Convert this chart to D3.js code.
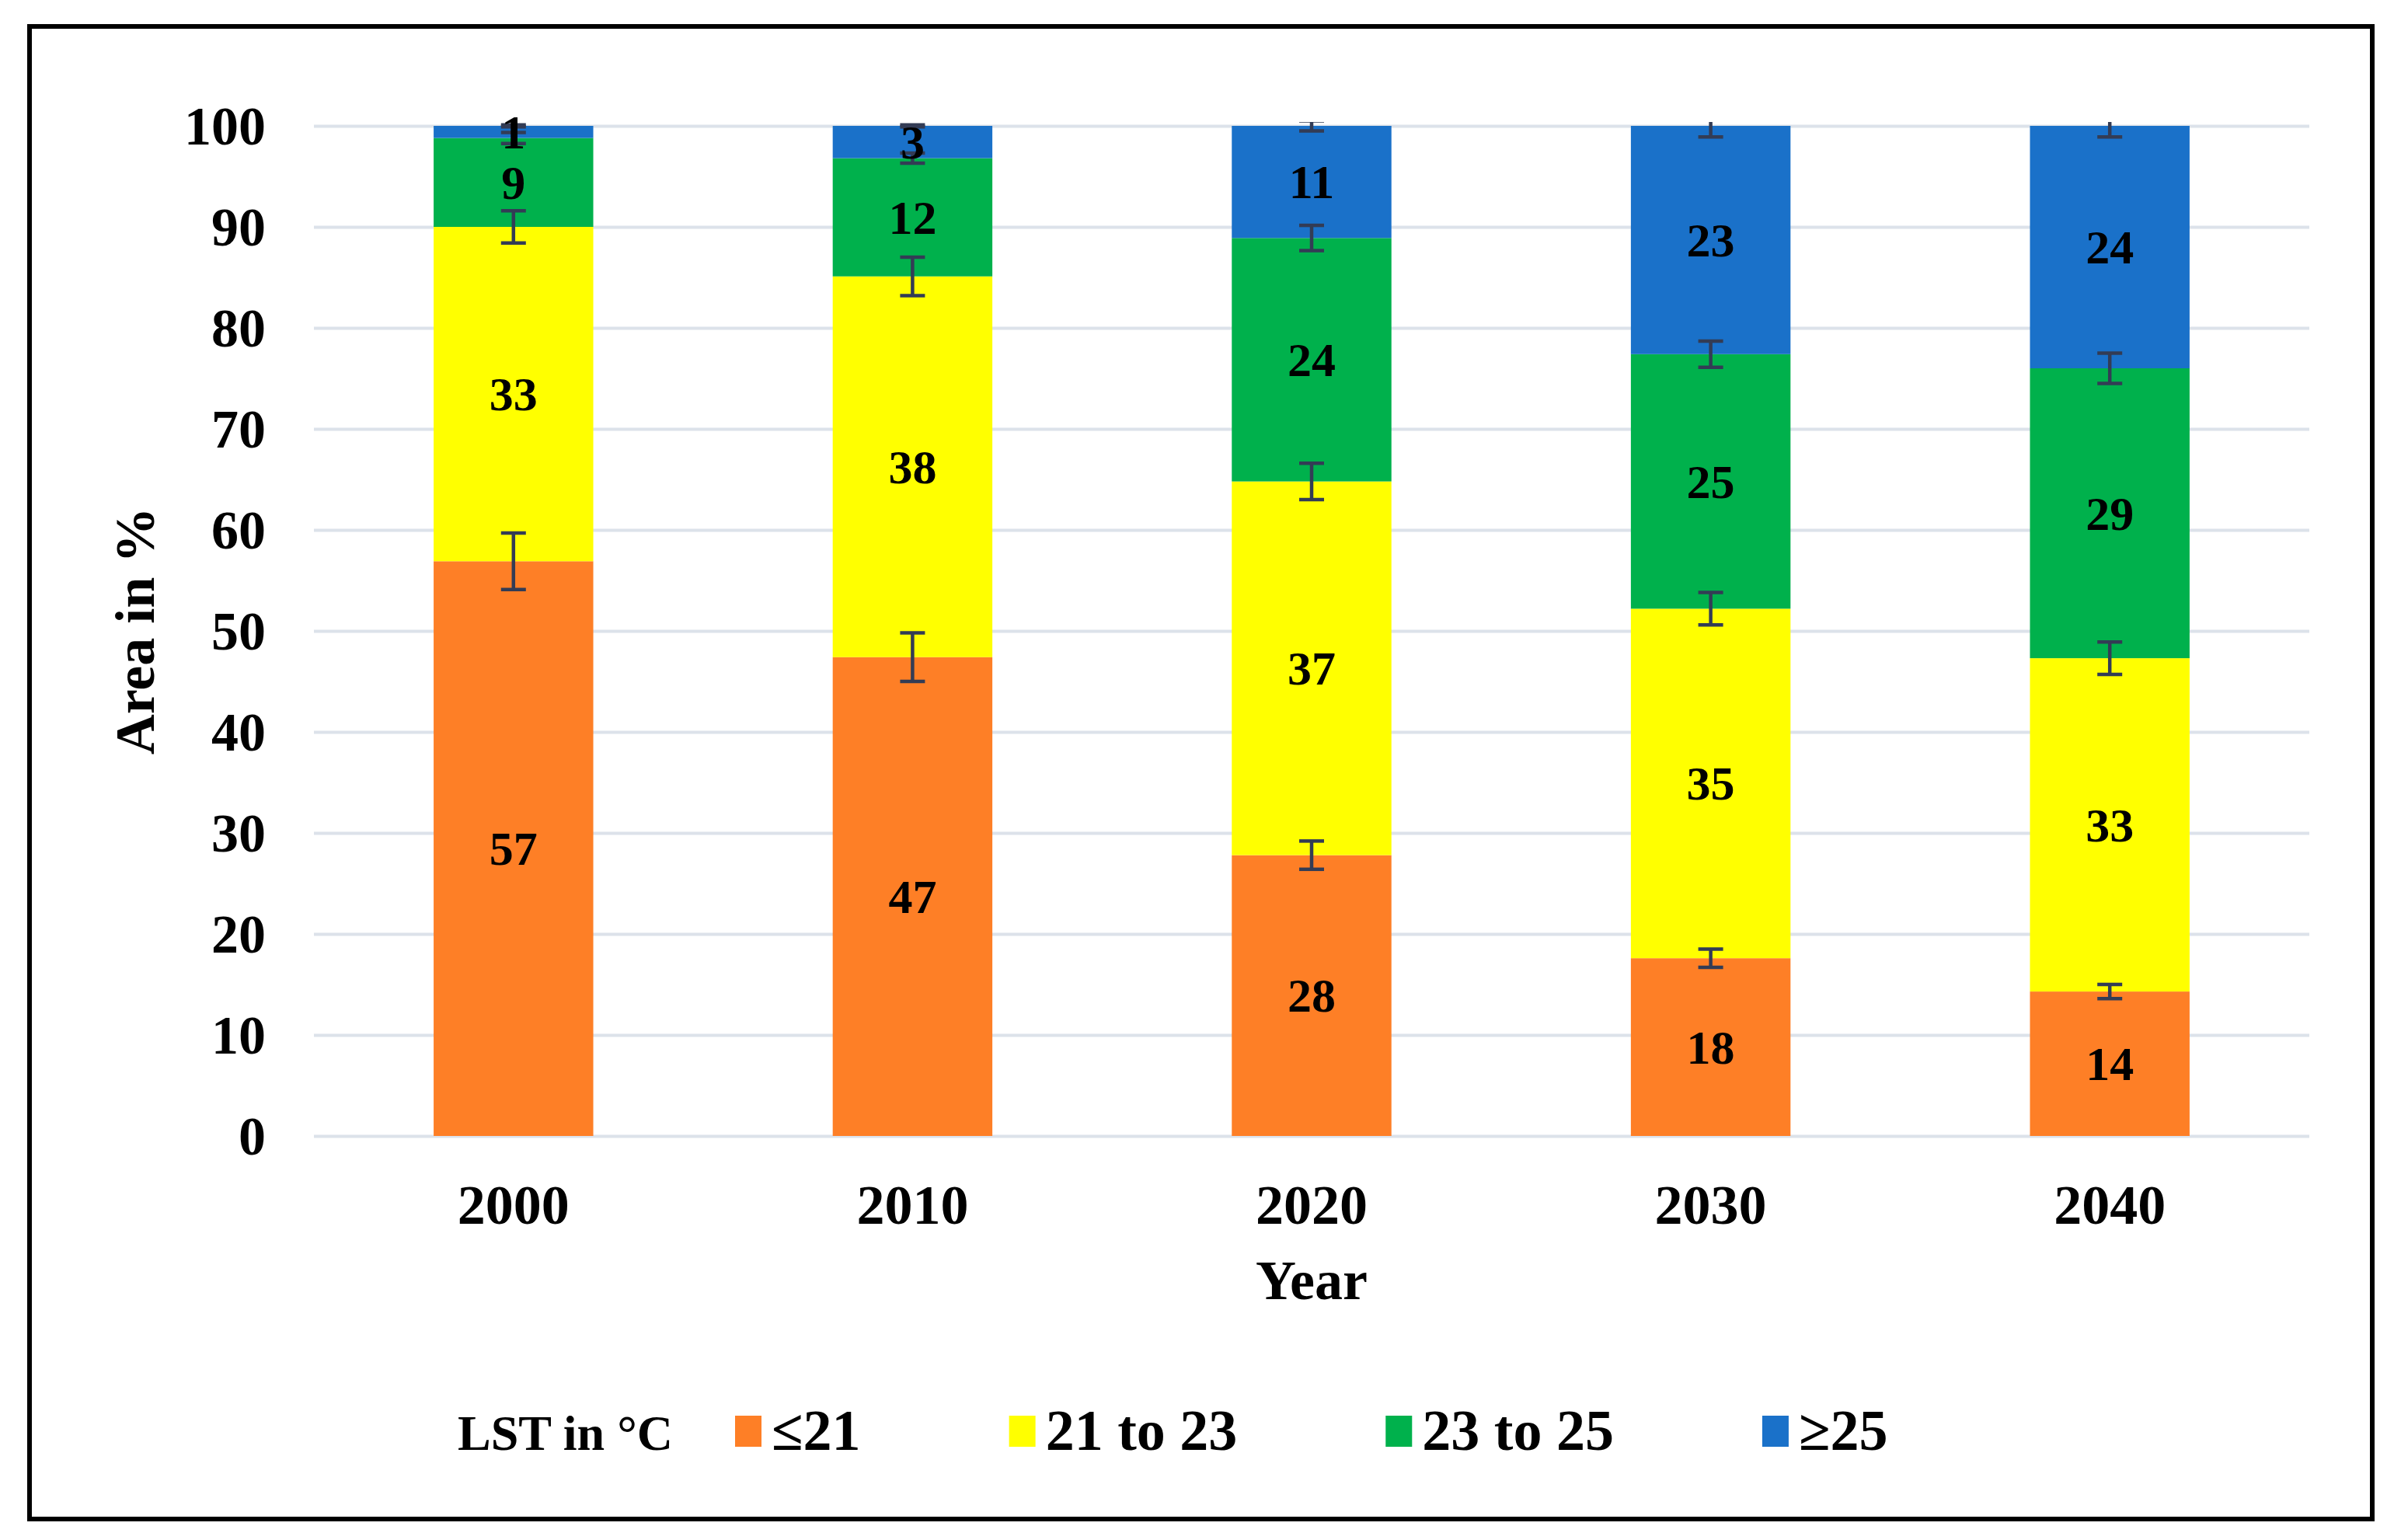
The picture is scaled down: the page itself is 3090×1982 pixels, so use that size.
<!DOCTYPE html>
<html lang="en">

<head>
  <meta charset="utf-8">
  <title>LST area stacked bars</title>
  <script src="https://d3js.org/d3.v7.min.js"></script>
  <style>
    body { margin: 0; background: #fff; }
    svg text { font-family: "Times New Roman", "Liberation Serif", serif; font-weight: bold; fill: #000; }
  </style>
</head>

<body>
  <div id="chart"></div>

  <script>
    "use strict"

    // data
    var years = ["2000", "2010", "2020", "2030", "2040"];
    var seriesNames = ["≤21", "21 to 23", "23 to 25", "≥25"];
    var le21 = [56.9, 47.4, 27.8, 17.6, 14.3];
    var from21to23 = [33.1, 37.7, 37.0, 34.6, 33.0];
    var from23to25 = [8.8, 11.7, 24.1, 25.2, 28.7];
    var ge25 = [1.2, 3.2, 11.1, 22.6, 24.0];
    // error bar half widths, same order
    var errLe21 = [2.8, 2.4, 1.4, 0.9, 0.7];
    var err21to23 = [1.6, 1.9, 1.8, 1.6, 1.6];
    var err23to25 = [0.55, 0.5, 1.25, 1.3, 1.5];
    var errGe25 = [0.1, 0.1, 0.5, 1.1, 1.1];
    var yTicks = [0, 10, 20, 30, 40, 50, 60, 70, 80, 90, 100];
    var legendTitle = "LST in °C";
    var colors = ["#fe7f26", "#ffff00", "#00b14c", "#1a71c9"];

    var values = [le21, from21to23, from23to25, ge25];
    var errors = [errLe21, err21to23, err23to25, errGe25];

    var W = 3090, H = 1982;
    var plot = {left: 404, right: 2972, top: 162, bottom: 1462};

    var rows = years.map(function(y, i) {
      var r = {year: y};
      seriesNames.forEach(function(s, k) { r[s] = values[k][i]; });
      return r;
    });

    var stacked = d3.stack().keys(seriesNames)(rows);

    var x = d3.scaleBand()
      .domain(years)
      .range([plot.left, plot.right])
      .paddingInner(0.6)
      .paddingOuter(0.3);

    var y = d3.scaleLinear()
      .domain([0, 100])
      .range([plot.bottom, plot.top]);

    var svg = d3.select("#chart").append("svg")
      .attr("width", W)
      .attr("height", H);

    svg.append("defs").append("clipPath").attr("id", "plotclip")
      .append("rect")
        .attr("x", plot.left).attr("y", plot.top - 5)
        .attr("width", plot.right - plot.left).attr("height", plot.bottom - plot.top + 5);

    // outer frame
    svg.append("rect")
      .attr("x", 38).attr("y", 34)
      .attr("width", 3015).attr("height", 1921)
      .attr("fill", "none")
      .attr("stroke", "#000")
      .attr("stroke-width", 6);

    // gridlines + y labels
    var yAxis = svg.append("g")
      .attr("transform", "translate(" + plot.left + ",0)")
      .call(d3.axisLeft(y).tickValues(yTicks).tickSize(-(plot.right - plot.left)).tickPadding(62));
    yAxis.select(".domain").remove();
    yAxis.selectAll(".tick line").attr("stroke", "#dce2ea").attr("stroke-width", 4);
    yAxis.selectAll(".tick text")
      .attr("font-size", 70)
      .attr("dy", "0.34em");

    // x labels
    var xAxis = svg.append("g")
      .attr("transform", "translate(0," + plot.bottom + ")")
      .call(d3.axisBottom(x).tickSize(0).tickPadding(113));
    xAxis.select(".domain").remove();
    xAxis.selectAll(".tick text").attr("font-size", 72).attr("dy", 0);

    // bars
    var layers = svg.append("g").selectAll("g")
      .data(stacked)
      .enter().append("g")
        .attr("fill", function(d, k) { return colors[k]; });

    layers.selectAll("rect")
      .data(function(d) { return d; })
      .enter().append("rect")
        .attr("x", function(d) { return x(d.data.year); })
        .attr("y", function(d) { return y(d[1]); })
        .attr("width", x.bandwidth())
        .attr("height", function(d) { return y(d[0]) - y(d[1]); });

    // error bars at the top of each segment
    var eb = svg.append("g")
      .attr("clip-path", "url(#plotclip)")
      .attr("stroke", "#333c55")
      .attr("stroke-width", 4.5);

    stacked.forEach(function(layer, k) {
      layer.forEach(function(d, i) {
        var cx = x(d.data.year) + x.bandwidth() / 2;
        var e = errors[k][i];
        var y0 = y(d[1] - e), y1 = y(d[1] + e);
        eb.append("line").attr("x1", cx).attr("x2", cx).attr("y1", y0).attr("y2", y1);
        eb.append("line").attr("x1", cx - 16).attr("x2", cx + 16).attr("y1", y0).attr("y2", y0);
        eb.append("line").attr("x1", cx - 16).attr("x2", cx + 16).attr("y1", y1).attr("y2", y1);
      });
    });

    // data labels
    stacked.forEach(function(layer, k) {
      svg.append("g").selectAll("text")
        .data(layer)
        .enter().append("text")
          .attr("x", function(d) { return x(d.data.year) + x.bandwidth() / 2; })
          .attr("y", function(d) { return y((d[0] + d[1]) / 2); })
          .attr("dy", "0.34em")
          .attr("text-anchor", "middle")
          .attr("font-size", 62)
          .text(function(d) { return Math.round(d[1] - d[0]); });
    });

    // axis titles
    svg.append("text")
      .attr("x", (plot.left + plot.right) / 2)
      .attr("y", 1672)
      .attr("text-anchor", "middle")
      .attr("font-size", 72)
      .text("Year");

    svg.append("text")
      .attr("transform", "translate(198," + (plot.top + plot.bottom) / 2 + ") rotate(-90)")
      .attr("text-anchor", "middle")
      .attr("font-size", 72)
      .text("Area in %");

    // legend, laid out as a flow like Excel does
    var legend = svg.append("g");
    var baseY = 1866;
    var lt = legend.append("text")
      .attr("x", 589).attr("y", baseY)
      .attr("font-size", 64)
      .text(legendTitle);
    var cursor = 589 + lt.node().getComputedTextLength() + 80;
    seriesNames.forEach(function(s, k) {
      legend.append("rect")
        .attr("x", cursor).attr("y", 1822)
        .attr("width", 34).attr("height", 40)
        .attr("fill", colors[k]);
      var t = legend.append("text")
        .attr("x", cursor + 47).attr("y", baseY)
        .attr("font-size", 74)
        .text(s);
      cursor = cursor + 47 + t.node().getComputedTextLength() + 191;
    });
  </script>
</body>

</html>
